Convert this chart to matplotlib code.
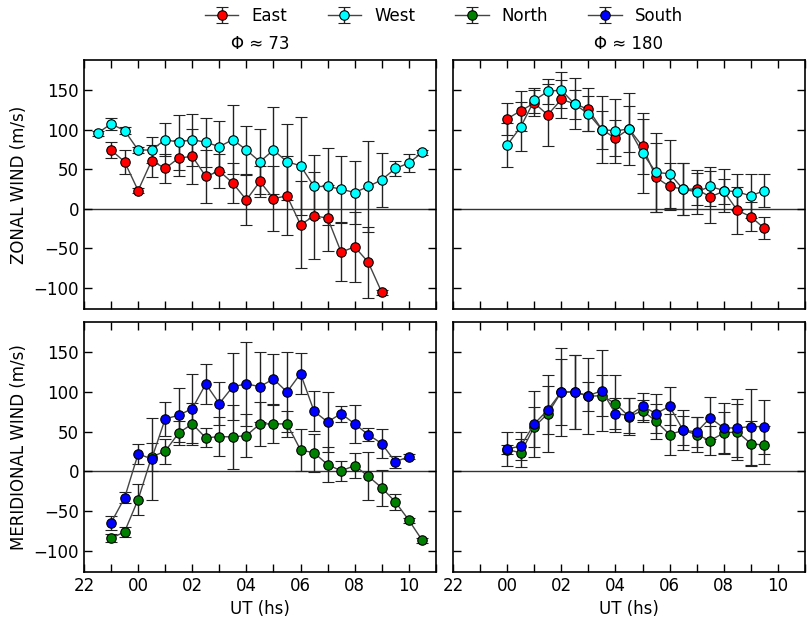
import numpy as np
import matplotlib
matplotlib.use('Agg')
import matplotlib.pyplot as plt
from matplotlib.ticker import MultipleLocator, FixedLocator

# ---------------- Phi ~ 73 ----------------
# zonal
t73_west = np.arange(-1.5, 10.51, 0.5)
west73 = [95.3, 107.2, 98.7, 74.1, 74.1, 87.3, 83.9, 87.3, 83.9, 78.4, 87.3, 74.1, 59.3,
          74.1, 59.3, 54.2, 28.0, 28.0, 24.6, 20.3, 28.0, 36.4, 50.8, 57.6, 71.2]
west73_err = [3, 8, 4, 4, 16, 21, 35, 33, 31, 32, 44, 30, 41, 55, 48, 62, 40, 49, 42, 40,
              57, 34, 9, 11, 3]

t73_east = np.arange(-1.0, 9.01, 0.5)
east73 = [74.1, 59.3, 22.9, 60.6, 50.8, 64.0, 66.1, 40.7, 47.5, 32.2, 11.0, 34.3, 12.7,
          16.1, -20.3, -9.3, -11.9, -55.1, -48.3, -67.8, -105.9]
east73_err = [10, 15, 3, 20, 18, 23, 35, 34, 21, 25, 32, 20, 41, 50, 55, 55, 42, 37, 44, 45, 3]

# meridional
t73_south = np.arange(-1.0, 10.01, 0.5)
south73 = [-65.0, -33.6, 21.8, 15.5, 65.9, 70.5, 78.9, 109.9, 85.2, 106.6, 109.9, 106.6,
           116.2, 99.8, 122.9, 75.5, 62.1, 72.6, 59.6, 46.1, 34.8, 11.7, 18.5]
south73_err = [9, 7, 13, 52, 21, 34, 43, 25, 27, 42, 53, 44, 31, 50, 26, 25, 38, 10, 24,
               8, 18, 8, 3]

t73_north = np.arange(-1.0, 10.51, 0.5)
north73 = [-84.7, -76.3, -35.7, 18.0, 25.2, 48.2, 59.6, 42.0, 43.6, 43.2, 44.9, 59.6, 59.6,
           59.6, 26.8, 23.1, 8.4, 0.4, 7.1, -6.3, -20.9, -38.6, -61.7, -87.3]
north73_err = [5, 6, 20, 18, 16, 15, 26, 12, 25, 40, 27, 28, 24, 16, 26, 24, 22, 13, 16,
               30, 23, 10, 3, 3]

# ---------------- Phi ~ 180 ----------------
t180 = np.arange(0.0, 9.51, 0.5)
east180 = [113.6, 123.7, 133.5, 118.6, 138.1, 132.6, 125.4, 100.0, 89.0, 100.8, 78.8, 39.4,
           28.0, 24.6, 24.6, 14.8, 22.0, -2.1, -10.2, -25.0]
east180_err = [20, 25, 16, 39, 24, 32, 27, 42, 23, 46, 35, 44, 30, 33, 20, 33, 16, 30, 18, 14]
west180 = [80.5, 103.4, 136.9, 148.3, 150.0, 131.8, 119.9, 100.0, 98.3, 100.8, 70.3, 45.8,
           44.1, 24.6, 21.2, 28.0, 22.9, 21.2, 16.1, 22.9]
west180_err = [28, 31, 16, 16, 23, 18, 22, 24, 40, 29, 51, 50, 43, 33, 28, 25, 27, 23, 28, 21]

south180 = [28.1, 31.5, 59.6, 77.2, 99.8, 99.8, 95.2, 101.5, 72.6, 70.1, 81.8, 72.6, 81.8,
            51.6, 49.5, 67.1, 54.5, 54.5, 56.2, 56.2]
south180_err = [21, 18, 42, 30, 55, 46, 48, 51, 20, 22, 17, 25, 24, 25, 19, 27, 31, 36, 48, 34]
north180 = [27.3, 23.1, 55.8, 72.6, 99.8, 99.8, 94.4, 95.2, 85.2, 68.8, 76.3, 62.9, 46.1,
            51.6, 46.1, 38.6, 48.2, 49.5, 34.8, 32.7]
north180_err = [6, 18, 25, 48, 41, 46, 18, 26, 36, 23, 14, 22, 26, 18, 22, 18, 27, 35, 28, 24]

xtick_pos = [-2, 0, 2, 4, 6, 8, 10]
xtick_lab = ['22', '00', '02', '04', '06', '08', '10']

plt.rcParams['font.size'] = 12

fig = plt.figure(figsize=(8.09, 6.21), dpi=100)
ax1 = fig.add_axes([0.1038, 0.5024, 0.435, 0.401])
ax2 = fig.add_axes([0.5600, 0.5024, 0.435, 0.401])
ax3 = fig.add_axes([0.1038, 0.0789, 0.435, 0.4026])
ax4 = fig.add_axes([0.5600, 0.0789, 0.435, 0.4026])


def draw(ax, t, y, err, col, lab):
    ax.errorbar(t, y, yerr=err, fmt='o-', color='#444444', mfc=col, mec='black', mew=0.8,
                ms=6.8, lw=1.0, ecolor='#222222', elinewidth=1.0, capsize=4, capthick=1.0,
                label=lab)


draw(ax1, t73_east, east73, east73_err, 'red', 'East')
draw(ax1, t73_west, west73, west73_err, 'cyan', 'West')
draw(ax2, t180, east180, east180_err, 'red', 'East')
draw(ax2, t180, west180, west180_err, 'cyan', 'West')
draw(ax3, t73_north, north73, north73_err, 'green', 'North')
draw(ax3, t73_south, south73, south73_err, 'blue', 'South')
draw(ax4, t180, north180, north180_err, 'green', 'North')
draw(ax4, t180, south180, south180_err, 'blue', 'South')

for ax in [ax1, ax2, ax3, ax4]:
    ax.axhline(0, color='#333333', lw=1.0, zorder=0)
    ax.set_xlim(-2, 11)
    ax.set_ylim(-127, 188)
    ax.xaxis.set_major_locator(FixedLocator(xtick_pos))
    ax.xaxis.set_minor_locator(MultipleLocator(1))
    ax.yaxis.set_major_locator(MultipleLocator(50))
    ax.tick_params(which='both', direction='in', top=True, right=True, length=6, width=1)
    for s in ax.spines.values():
        s.set_linewidth(1.2)

for ax in [ax3, ax4]:
    ax.set_xticklabels(xtick_lab)
    ax.set_xlabel('UT (hs)')
for ax in [ax1, ax2]:
    ax.set_xticklabels([])
for ax in [ax2, ax4]:
    ax.set_yticklabels([])

ax1.set_ylabel('ZONAL WIND (m/s)')
ax3.set_ylabel('MERIDIONAL WIND (m/s)')
ax1.set_title('\u03a6 \u2248 73', fontsize=12, pad=8)
ax2.set_title('\u03a6 \u2248 180', fontsize=12, pad=8)

h1, l1 = ax1.get_legend_handles_labels()
h3, l3 = ax3.get_legend_handles_labels()
fig.legend(h1 + h3, l1 + l3, loc='upper center', ncol=4, frameon=False,
           bbox_to_anchor=(0.549, 1.013), columnspacing=2.4)

fig.savefig('out.png', dpi=100)
